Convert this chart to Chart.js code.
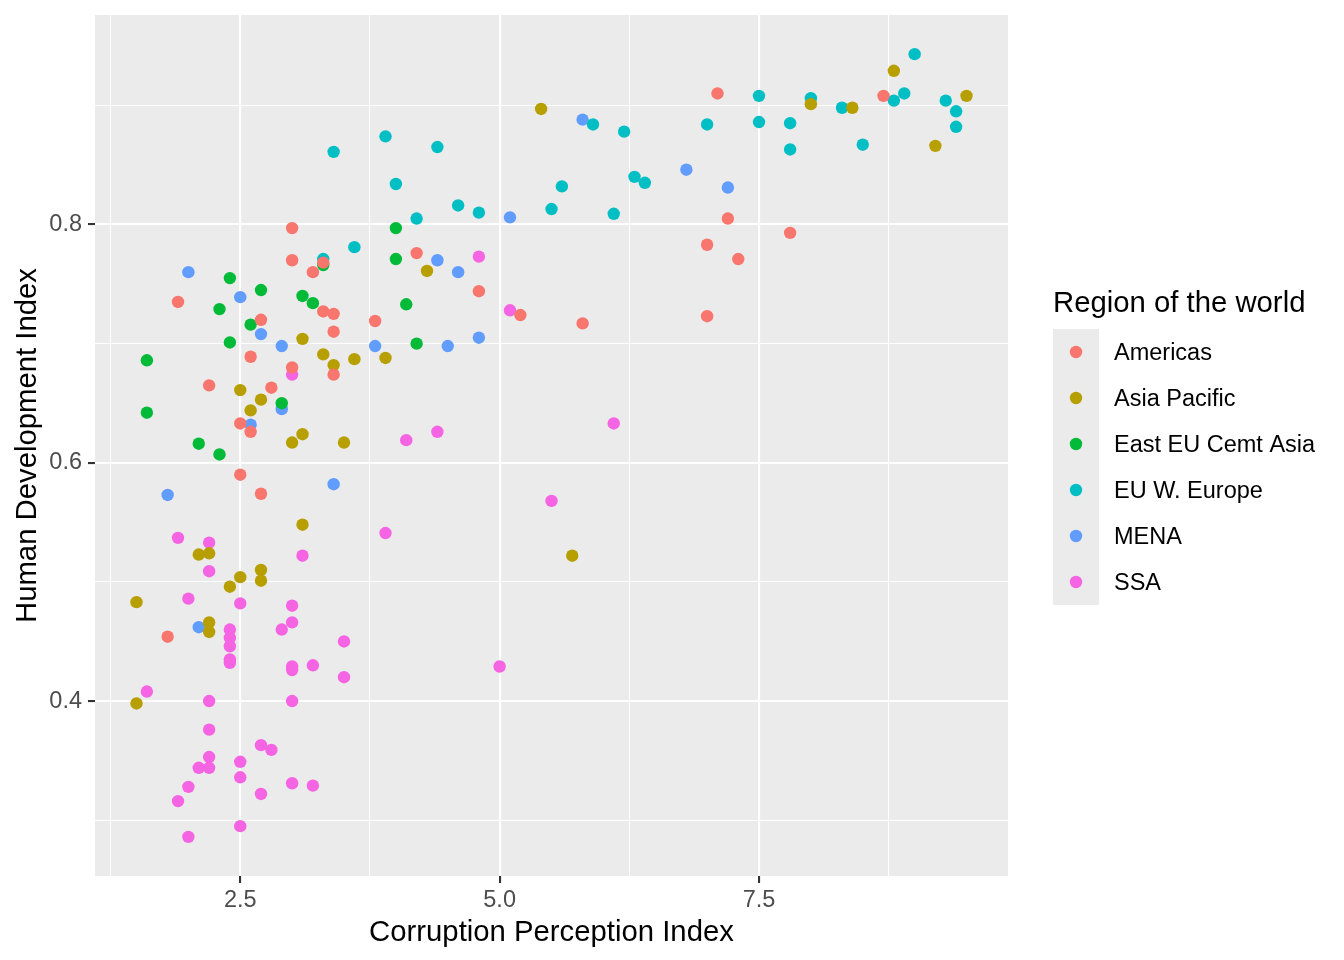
<!DOCTYPE html>
<html>
<head>
<meta charset="utf-8">
<script src="https://cdn.jsdelivr.net/npm/chart.js@4.4.1/dist/chart.umd.min.js"></script>
<style>
    html, body { margin: 0; padding: 0; background: #ffffff; }
    #wrap { width: 1344px; height: 960px; position: relative; }
</style>
</head>
<body>
<div id="wrap"><canvas id="chart"></canvas></div>
<script>
// ------------------------------
// Data: [CPI, HDI] per region
// ------------------------------
const regions = ['Americas', 'Asia Pacific', 'East EU Cemt Asia', 'EU W. Europe', 'MENA', 'SSA'];
const regionColors = ['#F8766D', '#B79F00', '#00BA38', '#00BFC4', '#619CFF', '#F564E3'];

const americas = [
    [1.9, 0.735], [3.0, 0.797], [3.0, 0.770], [3.2, 0.760], [3.3, 0.768], [3.3, 0.727],
    [3.4, 0.725], [3.4, 0.710], [3.4, 0.674], [3.0, 0.680], [2.7, 0.720], [2.6, 0.689],
    [2.2, 0.665], [2.8, 0.663], [2.5, 0.633], [2.6, 0.626], [2.5, 0.590], [2.7, 0.574],
    [1.8, 0.454], [3.8, 0.719], [4.2, 0.776], [4.8, 0.744], [5.2, 0.724], [5.8, 0.717],
    [7.0, 0.783], [7.0, 0.723], [7.2, 0.805], [7.3, 0.771], [7.8, 0.793], [7.1, 0.910],
    [8.7, 0.908]
];
const asiaPacific = [
    [1.5, 0.483], [1.5, 0.398], [2.1, 0.523], [2.2, 0.524], [2.2, 0.466], [2.2, 0.458],
    [2.4, 0.496], [2.5, 0.504], [2.7, 0.510], [2.7, 0.501], [2.5, 0.661], [2.6, 0.644],
    [2.7, 0.653], [3.0, 0.617], [3.1, 0.624], [3.1, 0.704], [3.3, 0.691], [3.4, 0.682],
    [3.6, 0.687], [3.9, 0.688], [3.5, 0.617], [3.1, 0.548], [4.3, 0.761], [5.4, 0.897],
    [5.7, 0.522], [8.0, 0.901], [8.4, 0.898], [8.8, 0.929], [9.2, 0.866], [9.5, 0.908]
];
const eastEU = [
    [1.6, 0.686], [1.6, 0.642], [2.1, 0.616], [2.3, 0.607], [2.3, 0.729], [2.4, 0.755],
    [2.4, 0.701], [2.6, 0.716], [2.7, 0.745], [2.9, 0.650], [3.1, 0.740], [3.2, 0.734],
    [3.3, 0.766], [4.0, 0.797], [4.0, 0.771], [4.1, 0.733], [4.2, 0.700]
];
const westEurope = [
    [3.3, 0.771], [3.4, 0.861], [3.6, 0.781], [3.9, 0.874], [4.0, 0.834], [4.2, 0.805],
    [4.4, 0.865], [4.6, 0.816], [4.8, 0.810], [5.5, 0.813], [5.6, 0.832], [6.1, 0.809],
    [6.3, 0.840], [6.4, 0.835], [5.9, 0.884], [6.2, 0.878], [7.0, 0.884], [7.5, 0.908],
    [7.5, 0.886], [7.8, 0.885], [7.8, 0.863], [8.0, 0.906], [8.3, 0.898], [8.5, 0.867],
    [8.8, 0.904], [8.9, 0.910], [9.0, 0.943], [9.3, 0.904], [9.4, 0.895], [9.4, 0.882]
];
const mena = [
    [1.8, 0.573], [2.0, 0.760], [2.5, 0.739], [2.7, 0.708], [2.9, 0.698], [2.6, 0.632],
    [2.9, 0.645], [2.1, 0.462], [3.4, 0.582], [3.8, 0.698], [4.4, 0.770], [4.6, 0.760],
    [4.5, 0.698], [4.8, 0.705], [5.1, 0.806], [5.8, 0.888], [6.8, 0.846], [7.2, 0.831]
];
const ssa = [
    [1.6, 0.408], [1.9, 0.537], [2.0, 0.486], [2.2, 0.533], [2.2, 0.509], [2.5, 0.482],
    [2.4, 0.460], [2.4, 0.453], [2.4, 0.446], [2.4, 0.435], [2.4, 0.432], [2.9, 0.460],
    [3.0, 0.480], [3.0, 0.466], [3.0, 0.429], [3.0, 0.426], [3.2, 0.430], [3.5, 0.450],
    [3.5, 0.420], [3.1, 0.522], [3.0, 0.674], [2.2, 0.400], [2.2, 0.376], [2.2, 0.353],
    [2.2, 0.344], [2.1, 0.344], [2.0, 0.328], [1.9, 0.316], [2.0, 0.286], [2.5, 0.349],
    [2.5, 0.336], [2.5, 0.295], [2.7, 0.363], [2.8, 0.359], [2.7, 0.322], [3.0, 0.400],
    [3.0, 0.331], [3.2, 0.329], [3.9, 0.541], [4.1, 0.619], [4.4, 0.626], [4.8, 0.773],
    [5.1, 0.728], [5.5, 0.568], [5.0, 0.429], [6.1, 0.633]
];
const regionData = [americas, asiaPacific, eastEU, westEurope, mena, ssa];

// tick positions and labels
const xMajorTicks = [2.5, 5.0, 7.5];
const xMinorTicks = [1.25, 3.75, 6.25, 8.75];
const xTickLabels = ['2.5', '5.0', '7.5'];
const yMajorTicks = [0.4, 0.6, 0.8];
const yMinorTicks = [0.3, 0.5, 0.7, 0.9];
const yTickLabels = ['0.4', '0.6', '0.8'];

const xTitle = 'Corruption Perception Index';
const yTitle = 'Human Development Index';
const legendTitle = 'Region of the world';

// ------------------------------
// Scale limits (ggplot style 5% expansion)
// ------------------------------
const allPts = regionData.flat();
const xs = allPts.map(p => p[0]);
const ys = allPts.map(p => p[1]);
const xPad = (Math.max(...xs) - Math.min(...xs)) * 0.05;
const yPad = (Math.max(...ys) - Math.min(...ys)) * 0.05;

const FONT = '"Liberation Sans", Arial, Helvetica, sans-serif';
Chart.defaults.font.family = FONT;

function isMajor(list, v) {
    return list.some(t => Math.abs(t - v) < 1e-6);
}

function tickSet(major, minor) {
    return major.concat(minor).sort((a, b) => a - b).map(v => ({ value: v }));
}

// grey panel behind the grid
const panelBg = {
    id: 'panelBg',
    beforeDraw(chart) {
        const { ctx, chartArea: a } = chart;
        ctx.save();
        ctx.fillStyle = '#EBEBEB';
        ctx.fillRect(a.left, a.top, a.right - a.left, a.bottom - a.top);
        ctx.restore();
    }
};

// ggplot-like legend on the right
const sideLegend = {
    id: 'sideLegend',
    afterDraw(chart) {
        const ctx = chart.ctx;
        const x0 = 1053, top = 329, row = 46;
        ctx.save();
        ctx.fillStyle = '#000000';
        ctx.font = '29.3px ' + FONT;
        ctx.textBaseline = 'alphabetic';
        ctx.textAlign = 'left';
        ctx.fillText(legendTitle, x0, 312);

        ctx.fillStyle = '#EBEBEB';
        ctx.fillRect(x0, top, row, row * regions.length);

        ctx.font = '23.5px ' + FONT;
        ctx.textBaseline = 'middle';
        chart.data.datasets.forEach((ds, i) => {
            const cy = top + row * i + row / 2;
            ctx.fillStyle = ds.backgroundColor;
            ctx.beginPath();
            ctx.arc(x0 + row / 2, cy, 6.2, 0, Math.PI * 2);
            ctx.fill();
            ctx.fillStyle = '#000000';
            ctx.fillText(ds.label, 1114, cy + 2);
        });
        ctx.restore();
    }
};

const datasets = regions.map((name, i) => ({
    label: name,
    data: regionData[i].map(p => ({ x: p[0], y: p[1] })),
    backgroundColor: regionColors[i],
    borderWidth: 0,
    pointRadius: 6.2,
    pointHoverRadius: 6.2
}));

new Chart(document.getElementById('chart'), {
    type: 'scatter',
    data: { datasets },
    options: {
        responsive: true,
        maintainAspectRatio: false,
        animation: false,
        layout: { padding: { left: 0, top: 15, right: 336, bottom: 0 } },
        plugins: {
            legend: { display: false },
            tooltip: { enabled: false }
        },
        scales: {
            x: {
                type: 'linear',
                min: Math.min(...xs) - xPad,
                max: Math.max(...xs) + xPad,
                afterBuildTicks: (s) => { s.ticks = tickSet(xMajorTicks, xMinorTicks); },
                afterFit: (s) => { s.height = 84; s.paddingLeft = 0; s.paddingRight = 0; },
                border: { display: false },
                grid: {
                    color: '#FFFFFF',
                    lineWidth: (c) => isMajor(xMajorTicks, c.tick.value) ? 2.1 : 1.05,
                    tickColor: (c) => isMajor(xMajorTicks, c.tick.value) ? '#333333' : 'rgba(0,0,0,0)',
                    tickWidth: 2.1,
                    tickLength: 7
                },
                ticks: {
                    autoSkip: false,
                    maxRotation: 0,
                    padding: 3,
                    color: '#4D4D4D',
                    font: { size: 23.5 },
                    callback: (v) => {
                        const k = xMajorTicks.findIndex(t => Math.abs(t - v) < 1e-6);
                        return k >= 0 ? xTickLabels[k] : '';
                    }
                },
                title: {
                    display: true,
                    text: xTitle,
                    color: '#000000',
                    font: { size: 29.3 },
                    padding: { top: 0, bottom: 10 }
                }
            },
            y: {
                type: 'linear',
                min: Math.min(...ys) - yPad,
                max: Math.max(...ys) + yPad,
                afterBuildTicks: (s) => { s.ticks = tickSet(yMajorTicks, yMinorTicks); },
                afterFit: (s) => { s.width = 95; s.paddingTop = 0; s.paddingBottom = 0; },
                border: { display: false },
                grid: {
                    color: '#FFFFFF',
                    lineWidth: (c) => isMajor(yMajorTicks, c.tick.value) ? 2.1 : 1.05,
                    tickColor: (c) => isMajor(yMajorTicks, c.tick.value) ? '#333333' : 'rgba(0,0,0,0)',
                    tickWidth: 2.1,
                    tickLength: 7
                },
                ticks: {
                    autoSkip: false,
                    padding: 6,
                    color: '#4D4D4D',
                    font: { size: 23.5 },
                    callback: (v) => {
                        const k = yMajorTicks.findIndex(t => Math.abs(t - v) < 1e-6);
                        return k >= 0 ? yTickLabels[k] : '';
                    }
                },
                title: {
                    display: true,
                    text: yTitle,
                    color: '#000000',
                    font: { size: 29.3 },
                    padding: { top: 10, bottom: 0 }
                }
            }
        }
    },
    plugins: [panelBg, sideLegend]
});
</script>
</body>
</html>
